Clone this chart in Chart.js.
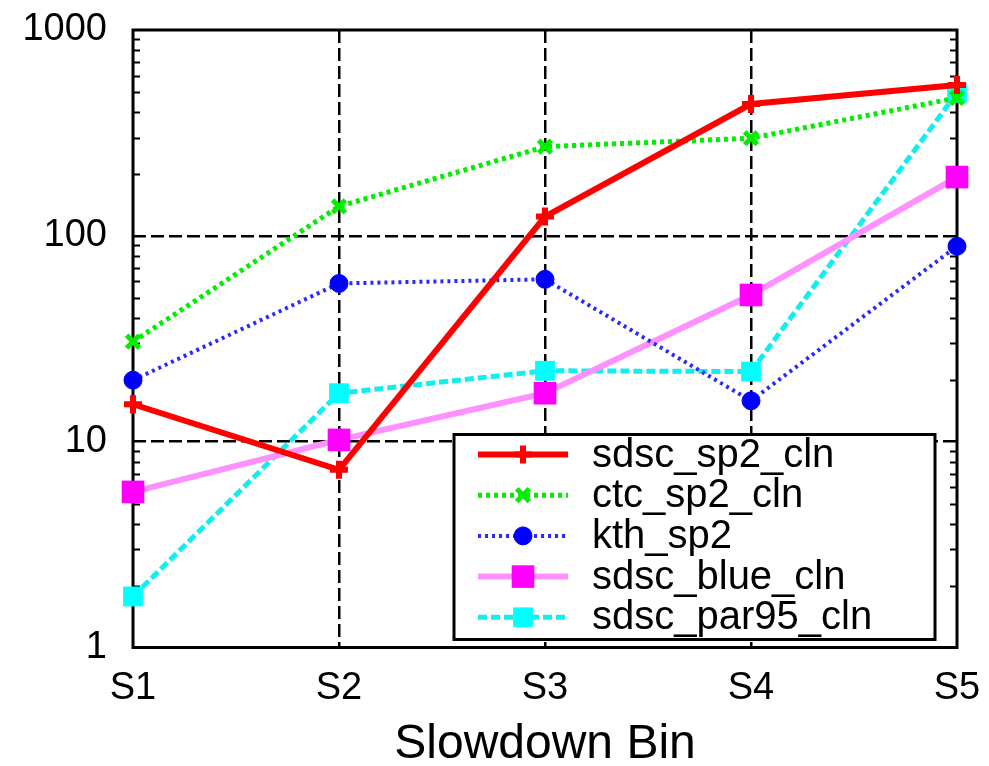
<!DOCTYPE html>
<html>
<head>
<meta charset="utf-8">
<script src="https://cdn.jsdelivr.net/npm/chart.js@4.4.0/dist/chart.umd.min.js"></script>
<style>
  html, body { margin: 0; padding: 0; background: #fff; }
  #wrap { width: 989px; height: 766px; }
</style>
</head>
<body>
<div id="wrap"><canvas id="myChart" width="989" height="766"></canvas></div>
<script>
const bins = ["S1", "S2", "S3", "S4", "S5"];
const sdscSp2 = [15.2, 7.3, 124, 437, 541];
const ctcSp2 = [30.6, 139, 271, 298, 468];
const kthSp2 = [19.9, 58.7, 61.5, 15.8, 89];
const sdscBlue = [5.7, 10.2, 17.2, 51.6, 193];
const sdscPar95 = [1.77, 17.2, 22.1, 21.9, 495];
const yTicks = [1, 10, 100, 1000];
const seriesNames = ["sdsc_sp2_cln", "ctc_sp2_cln", "kth_sp2", "sdsc_blue_cln", "sdsc_par95_cln"];

Chart.defaults.font.family = "'Liberation Sans', Arial, sans-serif";
Chart.defaults.color = "#000";

const clear = "rgba(0,0,0,0)";

// minor log ticks on both sides + the black frame
const framePlugin = {
  id: "frame",
  beforeDatasetsDraw(chart) {
    const { ctx, chartArea: a, scales } = chart;
    const y = scales.y;
    ctx.save();
    ctx.strokeStyle = "#000";
    ctx.lineWidth = 2;
    for (let d = 1; d < 1000; d *= 10) {
      for (let k = 2; k <= 9; k++) {
        const py = Math.round(y.getPixelForValue(k * d)) + 0.5;
        ctx.beginPath();
        ctx.moveTo(a.left, py);
        ctx.lineTo(a.left + 7, py);
        ctx.moveTo(a.right, py);
        ctx.lineTo(a.right - 7, py);
        ctx.stroke();
      }
    }
    ctx.lineWidth = 3;
    ctx.strokeRect(a.left, a.top, a.right - a.left, a.bottom - a.top);
    ctx.restore();
  }
};

// boxed legend in the lower right of the plot
const legendBox = {
  id: "legendBox",
  afterDatasetsDraw(chart) {
    const { ctx, chartArea: a } = chart;
    const x0 = a.right - 503, y0 = a.bottom - 213, w = 481, h = 205;
    ctx.save();
    ctx.fillStyle = "#fff";
    ctx.fillRect(x0, y0, w, h);
    ctx.lineWidth = 3;
    ctx.strokeStyle = "#000";
    ctx.strokeRect(x0, y0, w, h);
    chart.data.datasets.forEach((ds, i) => {
      const ry = y0 + 20 + i * 40.7;
      ctx.save();
      ctx.strokeStyle = ds.borderColor;
      ctx.lineWidth = ds.borderWidth;
      ctx.setLineDash(ds.borderDash || []);
      ctx.beginPath();
      ctx.moveTo(x0 + 24, ry);
      ctx.lineTo(x0 + 114, ry);
      ctx.stroke();
      ctx.setLineDash([]);
      ctx.fillStyle = ds.pointBackgroundColor;
      ctx.strokeStyle = ds.pointBorderColor;
      ctx.lineWidth = ds.pointBorderWidth;
      Chart.helpers.drawPoint(ctx, {
        pointStyle: ds.pointStyle,
        radius: ds.pointRadius,
        borderWidth: ds.pointBorderWidth,
        rotation: 0
      }, x0 + 69, ry);
      ctx.restore();
      ctx.fillStyle = "#000";
      ctx.font = "40px 'Liberation Sans', Arial, sans-serif";
      ctx.textBaseline = "middle";
      ctx.textAlign = "left";
      ctx.fillText(ds.label, x0 + 138, ry + 1);
    });
    ctx.restore();
  }
};

new Chart(document.getElementById("myChart"), {
  type: "line",
  data: {
    labels: bins,
    datasets: [
      {
        label: seriesNames[0], data: sdscSp2,
        borderColor: "#ff0000", borderWidth: 6,
        pointStyle: "cross", pointRadius: 9, pointBorderWidth: 6,
        pointBackgroundColor: "#ff0000", pointBorderColor: "#ff0000"
      },
      {
        label: seriesNames[1], data: ctcSp2,
        borderColor: "#00ee00", borderWidth: 5, borderDash: [4, 4],
        pointStyle: "crossRot", pointRadius: 9, pointBorderWidth: 5,
        pointBackgroundColor: "#00ee00", pointBorderColor: "#00ee00"
      },
      {
        label: seriesNames[2], data: kthSp2,
        borderColor: "#2a2aff", borderWidth: 4, borderDash: [3, 4],
        pointStyle: "circle", pointRadius: 9, pointBorderWidth: 1,
        pointBackgroundColor: "#0000ff", pointBorderColor: "#0000ff"
      },
      {
        label: seriesNames[3], data: sdscBlue,
        borderColor: "#ff90ff", borderWidth: 6,
        pointStyle: "rect", pointRadius: 16, pointBorderWidth: 0,
        pointBackgroundColor: "#ff00ff", pointBorderColor: "#ff00ff"
      },
      {
        label: seriesNames[4], data: sdscPar95,
        borderColor: "#11eeee", borderWidth: 5, borderDash: [9, 4],
        pointStyle: "rect", pointRadius: 14, pointBorderWidth: 0,
        pointBackgroundColor: "#00ffff", pointBorderColor: "#00ffff"
      }
    ].map(d => Object.assign(d, { fill: false, tension: 0, clip: false, pointHoverRadius: d.pointRadius }))
  },
  options: {
    responsive: false,
    animation: false,
    devicePixelRatio: 1,
    layout: { padding: { top: 30, right: 32, left: 0, bottom: 0 } },
    plugins: { legend: { display: false }, tooltip: { enabled: false } },
    scales: {
      x: {
        type: "category",
        offset: false,
        grid: {
          color: c => (c.index === 0 || c.index === bins.length - 1) ? clear : "#000",
          lineWidth: 2.5,
          drawTicks: false
        },
        border: { display: false, dash: [13, 5] },
        ticks: { font: { size: 38 }, padding: 18, maxRotation: 0 },
        title: {
          display: true, text: "Slowdown Bin",
          font: { size: 48, lineHeight: 0.9 }, padding: 0
        },
        afterFit: s => { s.height = 118.5; s.paddingLeft = 0; s.paddingRight = 0; }
      },
      y: {
        type: "logarithmic",
        min: 1, max: 1000,
        afterBuildTicks: s => { s.ticks = yTicks.map(v => ({ value: v })); },
        grid: {
          color: c => (c.tick && (c.tick.value === 1 || c.tick.value === 1000)) ? clear : "#000",
          lineWidth: 2.5,
          drawTicks: false
        },
        border: { display: false, dash: [13, 5] },
        ticks: { font: { size: 38 }, padding: 26, callback: v => String(v) },
        afterFit: s => { s.width = 133; s.paddingTop = 0; s.paddingBottom = 0; }
      }
    }
  },
  plugins: [framePlugin, legendBox]
});
</script>
</body>
</html>
